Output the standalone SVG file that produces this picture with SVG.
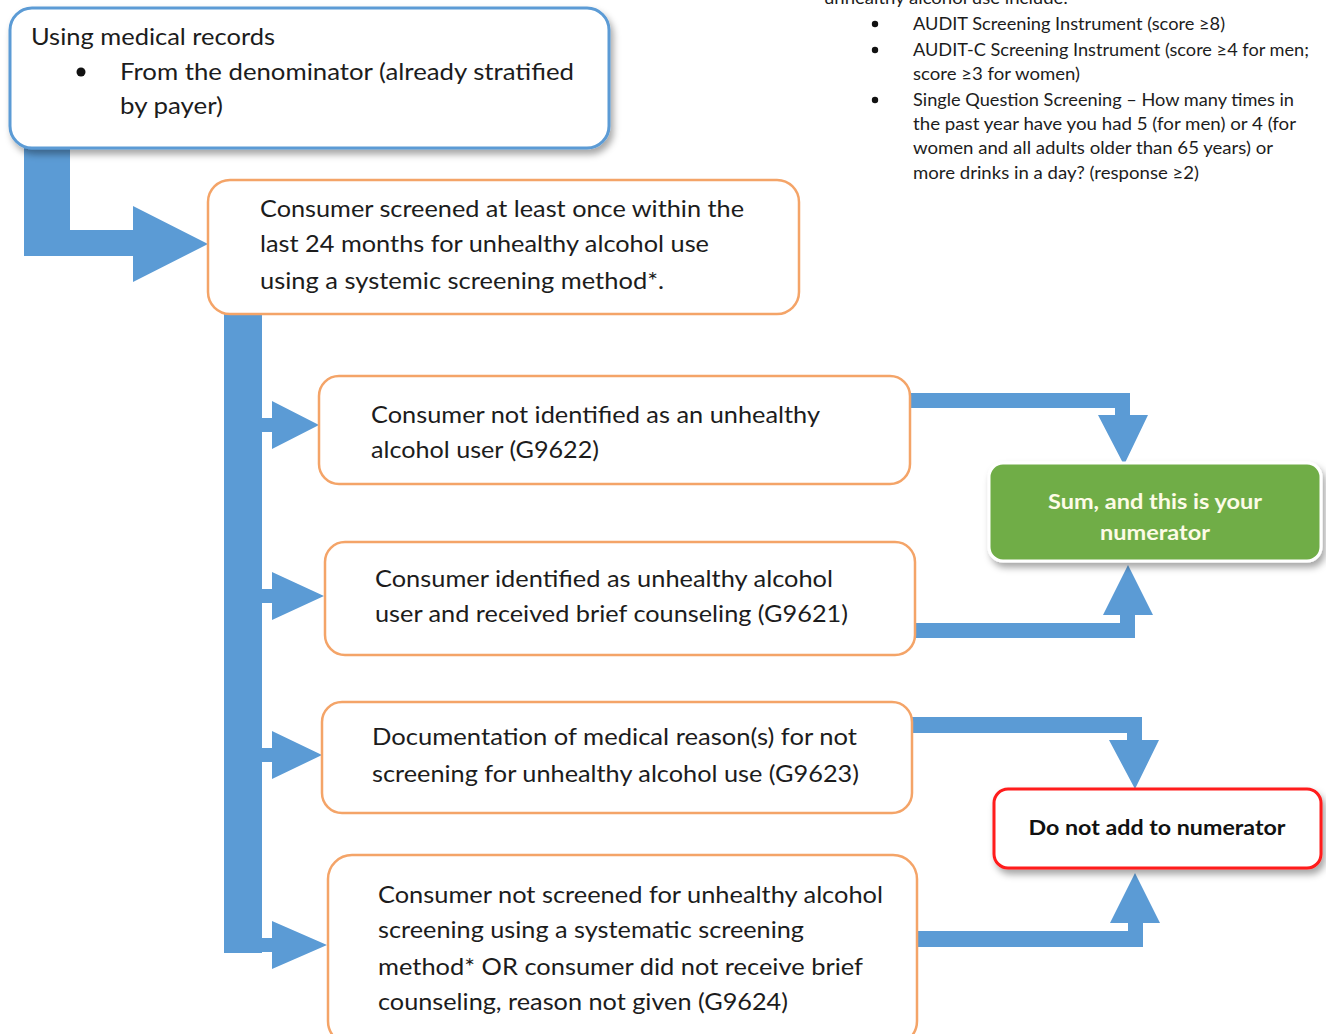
<svg xmlns="http://www.w3.org/2000/svg" width="1326" height="1034" viewBox="0 0 1326 1034">
  <defs>
    <filter id="shadow" x="-10%" y="-20%" width="125%" height="150%">
      <feDropShadow dx="3" dy="5" stdDeviation="3.5" flood-color="#000" flood-opacity="0.35"/>
    </filter>
    <style>
      text { font-family: Lato, "Open Sans", "Liberation Sans", sans-serif; fill: #1c1c1c; }
      .body { font-size: 24px; }
      .note { font-size: 17px; }
      .step { fill: #ffffff; stroke: #f4a468; stroke-width: 2.5; }
      .flow { fill: #5b9bd5; }
      .bold { font-weight: 700; font-size: 21px; }
    </style>
  </defs>
  <rect width="1326" height="1034" fill="#ffffff"/>

  <!-- list of screening methods (top right) -->
  <g id="methods">
    <text class="note" x="824" y="4" textLength="244" lengthAdjust="spacingAndGlyphs">unhealthy alcohol use include:</text>
    <circle cx="875" cy="24" r="3.2" fill="#111"/>
    <text class="note" x="913" y="30" textLength="312" lengthAdjust="spacingAndGlyphs">AUDIT Screening Instrument (score ≥8)</text>
    <circle cx="875" cy="50" r="3.2" fill="#111"/>
    <text class="note" x="913" y="56" textLength="396" lengthAdjust="spacingAndGlyphs">AUDIT-C Screening Instrument (score ≥4 for men;</text>
    <text class="note" x="913" y="80" textLength="167" lengthAdjust="spacingAndGlyphs">score ≥3 for women)</text>
    <circle cx="875" cy="100" r="3.2" fill="#111"/>
    <text class="note" x="913" y="106" textLength="381" lengthAdjust="spacingAndGlyphs">Single Question Screening – How many times in</text>
    <text class="note" x="913" y="130" textLength="383" lengthAdjust="spacingAndGlyphs">the past year have you had 5 (for men) or 4 (for</text>
    <text class="note" x="913" y="154" textLength="360" lengthAdjust="spacingAndGlyphs">women and all adults older than 65 years) or</text>
    <text class="note" x="913" y="179" textLength="286" lengthAdjust="spacingAndGlyphs">more drinks in a day? (response ≥2)</text>
  </g>

  <!-- connectors -->
  <g id="connectors">
    <polygon class="flow" points="24,148 70,148 70,230 133,230 133,206 208,244 133,282 133,256 24,256"/>
    <rect class="flow" x="224" y="314" width="38" height="639"/>
    <path class="flow" d="M262,418 h10 v-17 L319,425 L272,449 v-17 h-10 z"/>
    <path class="flow" d="M262,589 h10 v-17 L324,596 L272,620 v-17 h-10 z"/>
    <path class="flow" d="M262,748 h10 v-17 L322,755 L272,779 v-17 h-10 z"/>
    <path class="flow" d="M262,938 h10 v-17 L327,945 L272,969 v-17 h-10 z"/>
    <polygon class="flow" points="910,393 1130,393 1130,415 1148,415 1124,465 1098,415 1115,415 1115,408 910,408"/>
    <polygon class="flow" points="915,623 1120,623 1120,615 1103,615 1128,565 1153,615 1135,615 1135,638 915,638"/>
    <polygon class="flow" points="912,717 1142,717 1142,740 1159,740 1135,789 1109,740 1127,740 1127,733 912,733"/>
    <polygon class="flow" points="917,931 1128,931 1128,923 1110,923 1135,873 1160,923 1143,923 1143,947 917,947"/>
  </g>

  <g id="records">
    <rect x="10" y="8" width="599" height="140" rx="22" fill="#ffffff" stroke="#5b9bd5" stroke-width="3" filter="url(#shadow)"/>
    <text class="body" x="31" y="45" textLength="244" lengthAdjust="spacingAndGlyphs">Using medical records</text>
    <circle cx="81" cy="72" r="4.5" fill="#111"/>
    <text class="body" x="120" y="80" textLength="454" lengthAdjust="spacingAndGlyphs">From the denominator (already stratified</text>
    <text class="body" x="120" y="114" textLength="103" lengthAdjust="spacingAndGlyphs">by payer)</text>
  </g>

  <g id="screened">
    <rect class="step" x="208" y="180" width="591" height="134" rx="22"/>
    <text class="body" x="260" y="217" textLength="484" lengthAdjust="spacingAndGlyphs">Consumer screened at least once within the</text>
    <text class="body" x="260" y="252" textLength="449" lengthAdjust="spacingAndGlyphs">last 24 months for unhealthy alcohol use</text>
    <text class="body" x="260" y="289" textLength="404" lengthAdjust="spacingAndGlyphs">using a systemic screening method*.</text>
  </g>

  <g id="g9622">
    <rect class="step" x="319" y="376" width="591" height="108" rx="20"/>
    <text class="body" x="371" y="423" textLength="449" lengthAdjust="spacingAndGlyphs">Consumer not identified as an unhealthy</text>
    <text class="body" x="371" y="458" textLength="228" lengthAdjust="spacingAndGlyphs">alcohol user (G9622)</text>
  </g>

  <g id="g9621">
    <rect class="step" x="325" y="542" width="590" height="113" rx="20"/>
    <text class="body" x="375" y="587" textLength="458" lengthAdjust="spacingAndGlyphs">Consumer identified as unhealthy alcohol</text>
    <text class="body" x="375" y="622" textLength="473" lengthAdjust="spacingAndGlyphs">user and received brief counseling (G9621)</text>
  </g>

  <g id="g9623">
    <rect class="step" x="322" y="702" width="590" height="111" rx="20"/>
    <text class="body" x="372" y="745" textLength="485" lengthAdjust="spacingAndGlyphs">Documentation of medical reason(s) for not</text>
    <text class="body" x="372" y="782" textLength="487" lengthAdjust="spacingAndGlyphs">screening for unhealthy alcohol use (G9623)</text>
  </g>

  <g id="g9624">
    <rect class="step" x="328" y="855" width="589" height="190" rx="24"/>
    <text class="body" x="378" y="903" textLength="505" lengthAdjust="spacingAndGlyphs">Consumer not screened for unhealthy alcohol</text>
    <text class="body" x="378" y="938" textLength="426" lengthAdjust="spacingAndGlyphs">screening using a systematic screening</text>
    <text class="body" x="378" y="975" textLength="485" lengthAdjust="spacingAndGlyphs">method* OR consumer did not receive brief</text>
    <text class="body" x="378" y="1010" textLength="410" lengthAdjust="spacingAndGlyphs">counseling, reason not given (G9624)</text>
  </g>

  <g id="numerator">
    <rect x="989" y="463" width="332" height="98" rx="14" fill="#70ad47" stroke="#ffffff" stroke-width="3" filter="url(#shadow)"/>
    <text class="bold" x="1155" y="509" text-anchor="middle" style="fill:#fdfbe6" textLength="214" lengthAdjust="spacingAndGlyphs">Sum, and this is your</text>
    <text class="bold" x="1155" y="540" text-anchor="middle" style="fill:#fdfbe6" textLength="110" lengthAdjust="spacingAndGlyphs">numerator</text>
  </g>

  <g id="excluded">
    <rect x="994" y="789" width="327" height="79" rx="14" fill="#ffffff" stroke="#ff1a1a" stroke-width="3" filter="url(#shadow)"/>
    <text class="bold" x="1157" y="835" text-anchor="middle" style="fill:#111" textLength="257" lengthAdjust="spacingAndGlyphs">Do not add to numerator</text>
  </g>
</svg>
